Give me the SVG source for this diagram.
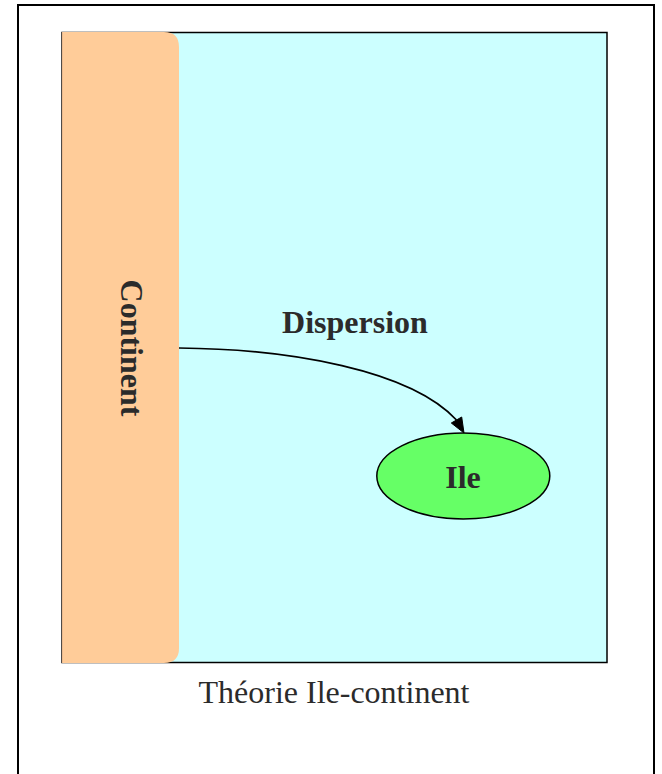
<svg xmlns="http://www.w3.org/2000/svg" width="662" height="774" viewBox="0 0 662 774">
<style>
.lbl{font-family:"Liberation Serif","Times New Roman",serif;font-size:32px;fill:#2b2b2b;text-anchor:middle}
.b{font-weight:bold}
</style>
<rect x="0" y="0" width="662" height="774" fill="#fff"/>
<rect id="frame" x="18" y="5" width="636" height="820" fill="#fff" stroke="#000" stroke-width="2"/>
<g id="cluster">
<rect x="62" y="32.5" width="545" height="630" fill="#ccffff" stroke="#000" stroke-width="1.5"/>
</g>
<g id="continent">
<path d="M62,32 H164 Q179,32 179,47 V648 Q179,663 164,663 H62 Z" fill="#ffcc99"/>
<line x1="62.3" y1="32" x2="62.3" y2="663" stroke="#d9a985" stroke-width="0.6"/>
<text class="lbl b" transform="translate(121,348) rotate(90)">Continent</text>
</g>
<g id="ile">
<ellipse cx="463.3" cy="476" rx="86.5" ry="43" fill="#66ff66" stroke="#000" stroke-width="1.5"/>
<text class="lbl b" x="463" y="488">Ile</text>
</g>
<g id="connectors">
<path d="M179,348 C290,349 410,370 456.5,420" fill="none" stroke="#000" stroke-width="1.7"/>
<polygon points="464,433 451.3,423 461.7,417" fill="#000" stroke="#000" stroke-width="1"/>
<text class="lbl b" x="355" y="333">Dispersion</text>
</g>
<text class="lbl" x="334" y="703">Théorie Ile-continent</text>
</svg>
